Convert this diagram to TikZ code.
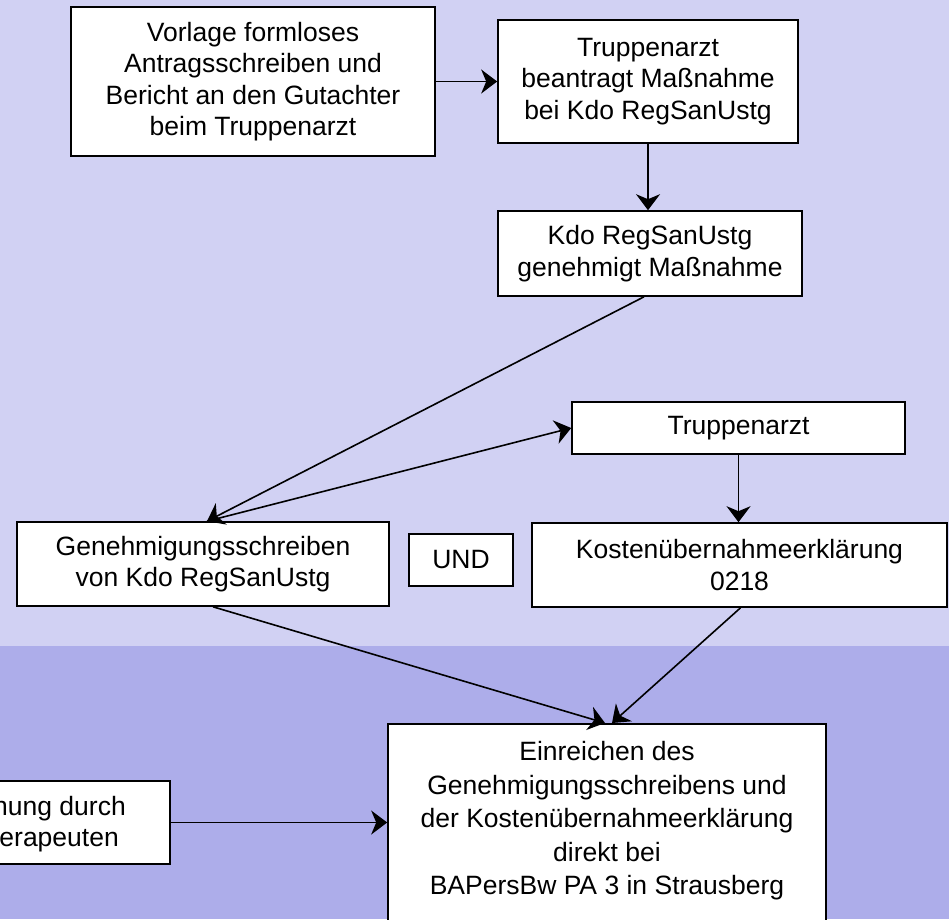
\documentclass[tikz,border=0pt]{standalone}
\usepackage{fontspec}
\setmainfont{Liberation Sans}
\usetikzlibrary{arrows.meta}
\definecolor{bgtop}{RGB}{209,209,243}
\definecolor{bgbot}{RGB}{173,173,234}
\begin{document}
\begin{tikzpicture}[x=1pt,y=-1pt,
  box/.style={draw=black, line width=1.6pt, fill=white, inner sep=0pt, align=center,
    font=\fontsize{26.5pt}{31.5pt}\selectfont},
  lbl/.style={inner sep=0pt, font=\fontsize{26.5pt}{31.5pt}\selectfont},
  conn/.style={line width=1.6pt, -{Stealth[length=16pt,width=24pt,inset=5pt]}}
]
\useasboundingbox (0,0) rectangle (949,919);
\clip (0,0) rectangle (949,919);
\fill[bgtop] (0,0) rectangle (949,646);
\fill[bgbot] (0,646) rectangle (949,919);

\node[box, minimum width=364pt, minimum height=149pt] (vorlage) at (253,81.5)
  {Vorlage formloses\\Antragsschreiben und\\Bericht an den Gutachter\\beim Truppenarzt};
\node[box, minimum width=300pt, minimum height=123pt] (beantragt) at (648,81.5)
  {Truppenarzt\\beantragt Maßnahme\\bei Kdo RegSanUstg};
\node[box, minimum width=304pt, minimum height=85pt] (genehmigt) at (650,253.5)
  {Kdo RegSanUstg\\genehmigt Maßnahme};
\node[box, minimum width=333pt, minimum height=52pt] (trupp) at (738.5,428)
  {Truppenarzt};
\node[box, minimum width=372pt, minimum height=84pt] (gen) at (203,564)
  {Genehmigungsschreiben\\von Kdo RegSanUstg};
\node[box, minimum width=104pt, minimum height=52pt] (und) at (461,560)
  {UND};
\node[box, minimum width=415pt, minimum height=84pt] (kosten) at (739.5,565)
  {Kostenübernahmeerklärung\\0218};
\node[box, minimum width=438pt, minimum height=230pt, anchor=north] (einr) at (607,723) {};
\node[lbl, align=center, font=\fontsize{26.5pt}{33.5pt}\selectfont] (einrtext) at (607,821)
  {Einreichen des\\Genehmigungsschreibens und\\der Kostenübernahmeerklärung\\direkt bei\\BAPersBw PA 3 in Strausberg};
\node[box, minimum width=240pt, minimum height=83pt] (verord) at (50,822.5) {};
\node[lbl, align=right, anchor=east] (verordtext) at (126,824)
  {nung durch\\erapeuten\hspace*{7pt}};

\coordinate (gtop) at ([xshift=4pt]gen.north);
\draw[conn] (vorlage.east) -- (beantragt.west);
\draw[conn] (beantragt.south) -- (beantragt.south |- genehmigt.north);
\draw[conn] ([xshift=-6pt]genehmigt.south) -- (gtop);
\draw[conn] (gtop) -- (trupp.west);
\draw[conn] (trupp.south) -- (trupp.south |- kosten.north);
\draw[conn] ([xshift=10pt]gen.south) -- ([xshift=-2pt]einr.north);
\draw[conn] ([xshift=1pt]kosten.south) -- ([xshift=5pt]einr.north);
\draw[conn] (verord.east) -- (verord.east -| einr.west);
\end{tikzpicture}
\end{document}
